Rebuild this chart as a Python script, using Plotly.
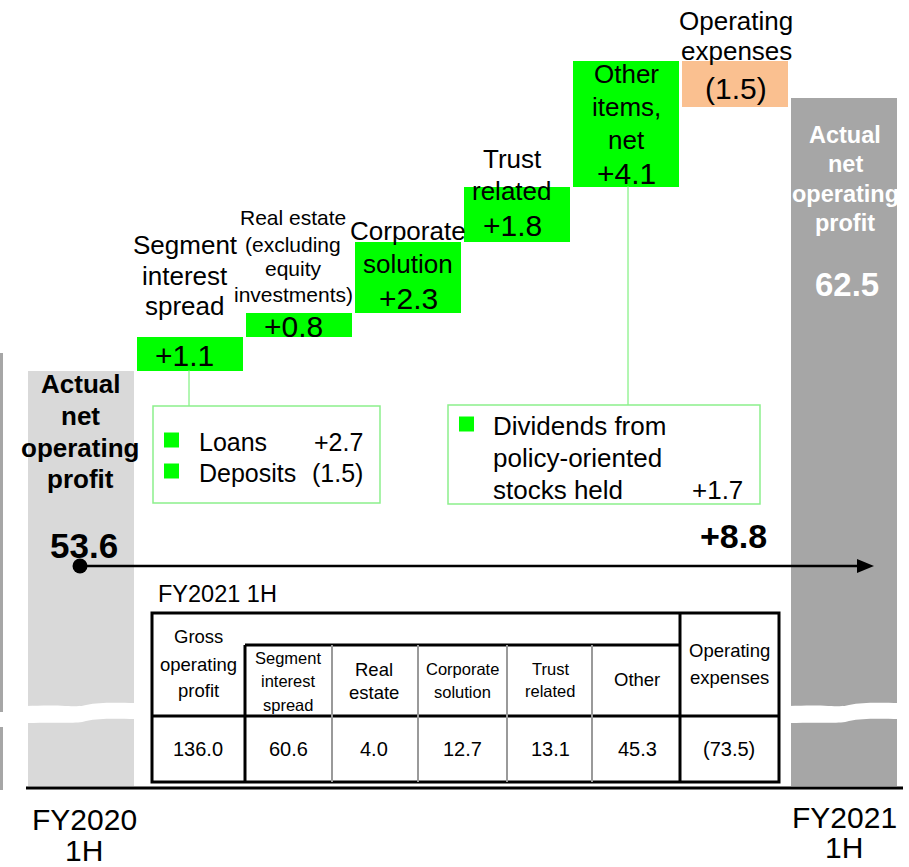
import plotly.graph_objects as go

W, H = 909, 867

# ---------------- data ----------------
categories = ["FY2020 1H", "Segment interest spread",
              "Real estate (excluding equity investments)", "Corporate solution",
              "Trust related", "Other items, net", "Operating expenses", "FY2021 1H"]
start_value = 53.6
end_value = 62.5
step_values = [1.1, 0.8, 2.3, 1.8, 4.1, -1.5]
step_value_labels = ["+1.1", "+0.8", "+2.3", "+1.8", "+4.1", "(1.5)"]
step_title_lines = [["Segment", "interest", "spread"],
                    ["Real estate", "(excluding", "equity", "investments)"],
                    ["Corporate", "solution"],
                    ["Trust", "related"],
                    ["Other", "items,", "net"],
                    ["Operating", "expenses"]]
total_label_lines = ["Actual", "net", "operating", "profit"]
start_label = "53.6"
end_label = "62.5"
change_label = "+8.8"
period_lines_start = ["FY2020", "1H"]
period_lines_end = ["FY2021", "1H"]
spread_items = ["Loans", "Deposits"]
spread_item_values = ["+2.7", "(1.5)"]
other_item_lines = ["Dividends from", "policy-oriented", "stocks held"]
other_item_value = "+1.7"
table_title = "FY2021 1H"
table_header_lines = [["Gross", "operating", "profit"],
                      ["Segment", "interest", "spread"],
                      ["Real", "estate"],
                      ["Corporate", "solution"],
                      ["Trust", "related"],
                      ["Other"],
                      ["Operating", "expenses"]]
table_values = ["136.0", "60.6", "4.0", "12.7", "13.1", "45.3", "(73.5)"]

# ---------------- scales ----------------
FONT = "Liberation Sans, Arial, sans-serif"
PX_PER_UNIT = 30.7
ANCHOR_PIX = 371
SLOT_PX = 109
SLOT0_PX = 81


def val_at(p):
    return start_value - (p - ANCHOR_PIX) / PX_PER_UNIT


y_range = [val_at(H), val_at(0)]
x_range = [(0 - SLOT0_PX) / SLOT_PX, (W - SLOT0_PX) / SLOT_PX]
floor = val_at(786)

levels = [start_value]
for d in step_values:
    levels.append(levels[-1] + d)

xs = list(range(len(categories)))
bases = [floor] + [min(levels[i], levels[i + 1]) for i in range(len(step_values))] + [floor]
heights = [start_value - floor] + [abs(d) for d in step_values] + [end_value - floor]
colors = ["#D9D9D9"] + ["#00FF00" if d > 0 else "#FAC090" for d in step_values] + ["#A6A6A6"]

fig = go.Figure()
fig.add_trace(go.Bar(x=xs, y=heights, base=bases, width=0.975,
                     marker=dict(color=colors, line=dict(width=0)),
                     hovertext=categories, showlegend=False))


def px(x):
    return x / W


def py(y):
    return 1 - y / H


shapes = []
annotations = []


def rect(x0, y0, x1, y1, fill=None, line=None, lw=0):
    shapes.append(dict(type="rect", xref="paper", yref="paper",
                       x0=px(x0), x1=px(x1), y0=py(y0), y1=py(y1),
                       fillcolor=fill if fill else "rgba(0,0,0,0)",
                       line=dict(color=line if line else "rgba(0,0,0,0)", width=lw)))


def hline(x0, x1, y, color="black", lw=3):
    shapes.append(dict(type="line", xref="paper", yref="paper",
                       x0=px(x0), x1=px(x1), y0=py(y), y1=py(y),
                       line=dict(color=color, width=lw)))


def vline(x, y0, y1, color="black", lw=3):
    shapes.append(dict(type="line", xref="paper", yref="paper",
                       x0=px(x), x1=px(x), y0=py(y0), y1=py(y1),
                       line=dict(color=color, width=lw)))


def path(points, fill, closed=True):
    d = "M " + " L ".join(f"{px(a):.5f},{py(b):.5f}" for a, b in points)
    if closed:
        d += " Z"
    shapes.append(dict(type="path", xref="paper", yref="paper", path=d,
                       fillcolor=fill, line=dict(width=0)))


def cpath(d_px, fill):
    parts = []
    for tok in d_px:
        cmd = tok[0]
        nums = tok[1:]
        coords = []
        for i in range(0, len(nums), 2):
            coords.append(f"{px(nums[i]):.5f},{py(nums[i + 1]):.5f}")
        parts.append(cmd + " " + " ".join(coords))
    shapes.append(dict(type="path", xref="paper", yref="paper",
                       path=" ".join(parts) + " Z", fillcolor=fill, line=dict(width=0)))


YFIX = 2


def txt(x, y, s, size, color="black", bold=False, xanchor="center", height=None):
    a = dict(xref="paper", yref="paper", x=px(x), y=py(y + YFIX),
             text=f"<b>{s}</b>" if bold else s, showarrow=False,
             xanchor=xanchor, yanchor="middle", borderpad=0,
             font=dict(family=FONT, size=size, color=color))
    if height is not None:
        a["height"] = height
        a["valign"] = "middle"
    annotations.append(a)


# far-left partial bar from the previous slide
rect(0, 353, 3, 712, fill="#A6A6A6")
rect(0, 727, 3, 790, fill="#A6A6A6")

# axis breaks (white wavy bands)
for (bx0, bx1) in [(26, 136), (789, 900)]:
    cpath([("M", bx0, 706), ("C", bx0 + 40, 704, bx0 + 50, 708, bx0 + 60, 705),
           ("C", bx0 + 75, 702, bx1 - 20, 703, bx1, 703),
           ("L", bx1, 719),
           ("C", bx1 - 20, 719, bx0 + 75, 718, bx0 + 60, 721),
           ("C", bx0 + 50, 724, bx0 + 40, 722, bx0, 723)], "white")

# baseline
hline(26, 903, 788, lw=3)

# arrow
hline(80, 860, 566, lw=2.5)
path([(857, 559), (874, 566), (857, 573)], "black")
shapes.append(dict(type="circle", xref="paper", yref="paper",
                   x0=px(72.5), x1=px(87.5), y0=py(558.5), y1=py(573.5),
                   fillcolor="black", line=dict(width=0)))

# callouts
BOX_GREEN = "#8CF08C"
vline(189, 370, 406, color="#66EE66", lw=1)
vline(628, 186, 405, color="#66EE66", lw=1)
rect(153, 406, 380, 503, line=BOX_GREEN, lw=1.5)
rect(448, 405, 760, 504, line=BOX_GREEN, lw=1.5)
for yy in [440, 471]:
    rect(164, yy - 7.5, 179, yy + 7.5, fill="#00FF00")
rect(459, 416.5, 474, 431.5, fill="#00FF00")

# table
T_L, T_R, T_T, T_B = 152, 779, 613, 782
rect(T_L, T_T, T_R, T_B, line="black", lw=3)
hline(245, 680, 645)
hline(T_L, T_R, 716)
vline(245, 645, T_B)
vline(680, T_T, T_B)
for xv in [332, 418, 507, 592]:
    vline(xv, 645, T_B, color="#9A9A9A", lw=2)

# ---------------- text ----------------
for s, yy in zip(total_label_lines, [382, 414, 446, 477]):
    txt(80, yy, s, 26, bold=True)
txt(84, 543, start_label, 35, bold=True)
for s, yy in zip(total_label_lines, [133, 162, 192, 221]):
    txt(845, yy, s, 23.5, color="white", bold=True)
txt(847, 283, end_label, 33, color="white", bold=True)

title_pos = [(185, [243, 274, 304], 26),
             (293, [216, 242, 267, 292], 21),
             (408, [229, 262], 26),
             (512, [157, 189], 26),
             (626, [72, 105, 138], 26),
             (736, [19, 49], 26)]
value_pos = [(184, 354), (293, 324), (408, 296), (512, 224), (626, 171), (736, 87)]
for (lines, (cx, ys, sz), (vx, vy), vlab) in zip(step_title_lines, title_pos, value_pos, step_value_labels):
    for s, yy in zip(lines, ys):
        txt(cx, yy, s, sz)
    txt(vx, vy, vlab, 30)

for s, v, yy in zip(spread_items, spread_item_values, [440, 471]):
    txt(198, yy, s, 25, xanchor="left")
    txt(364, yy, v, 25, xanchor="right")
for s, yy in zip(other_item_lines, [424, 456, 488]):
    txt(492, yy, s, 26, xanchor="left")
txt(744, 488, other_item_value, 26, xanchor="right")

txt(768, 534, change_label, 34, bold=True, xanchor="right")

txt(157, 592, table_title, 23.5, xanchor="left")
col_cx = [198, 288, 374, 462, 550, 637, 729]
head_pos = [([634, 662, 688], 18.5), ([656, 679, 703], 16.5), ([667, 690], 18.5),
            ([667, 690], 16.5), ([667, 689], 16.5), ([677], 18.5), ([648, 675], 18.5)]
for cx, lines, (ys, sz), v in zip(col_cx, table_header_lines, head_pos, table_values):
    for s, yy in zip(lines, ys):
        txt(cx, yy, s, sz)
    txt(cx, 747, v, 20)

for s, yy in zip(period_lines_start, [817, 848]):
    txt(84, yy, s, 30, height=29)
for s, yy in zip(period_lines_end, [815, 845]):
    txt(844, yy, s, 30, height=29)

fig.update_layout(
    width=W, height=H, autosize=False,
    margin=dict(l=0, r=0, t=0, b=0, pad=0),
    paper_bgcolor="white", plot_bgcolor="white",
    xaxis=dict(range=x_range, visible=False, fixedrange=True),
    yaxis=dict(range=y_range, visible=False, fixedrange=True),
    shapes=shapes, annotations=annotations, bargap=0,
    showlegend=False,
)
fig.write_html("out.html")
